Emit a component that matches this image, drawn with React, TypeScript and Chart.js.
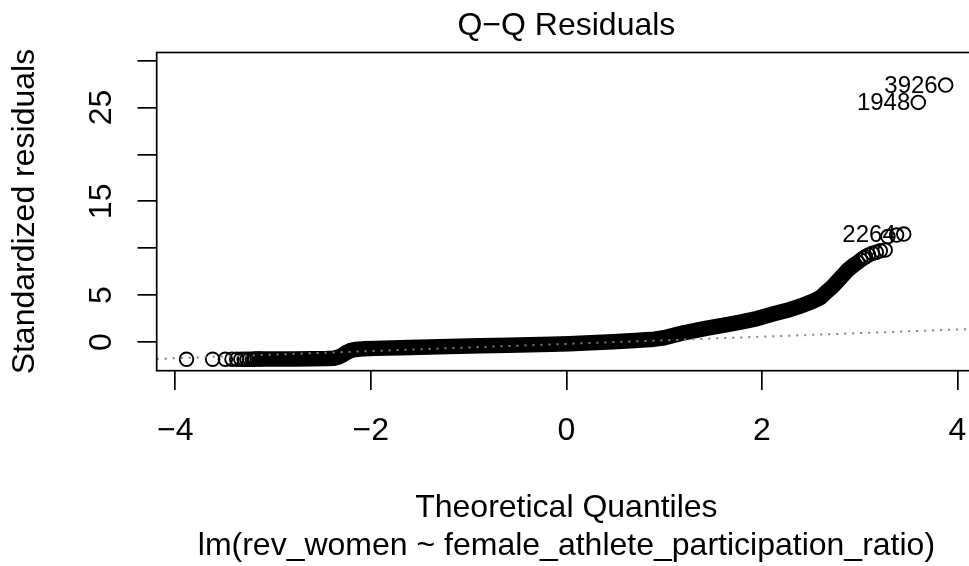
import React, { useEffect, useRef } from 'react';
import { Chart, registerables } from 'chart.js';

Chart.register(...registerables);

const FONT = '"Liberation Sans", Arial, Helvetica, sans-serif';

const TITLE = 'Q\u2212Q Residuals';
const X_TITLE = 'Theoretical Quantiles';
const Y_TITLE = 'Standardized residuals';
const SUB_TITLE = 'lm(rev_women ~ female_athlete_participation_ratio)';

// Dense middle of the sorted residuals (theoretical quantile, standardized residual)
const bandX = [
  -3.12, -3.0, -2.8, -2.6, -2.45, -2.38, -2.33, -2.29, -2.25, -2.21, -2.16, -2.08,
  -1.95, -1.7, -1.4, -1.1, -0.88, -0.6, -0.37, -0.15, 0.03, 0.25, 0.48, 0.7, 0.9,
  1.0, 1.1, 1.2, 1.3, 1.44, 1.6, 1.78, 1.95, 2.1, 2.25, 2.4, 2.52, 2.6, 2.65, 2.72,
  2.8, 2.88, 2.95,
];
const bandY = [
  -1.82, -1.81, -1.8, -1.79, -1.77, -1.74, -1.6, -1.4, -1.12, -0.92, -0.8, -0.73,
  -0.68, -0.61, -0.53, -0.46, -0.41, -0.35, -0.29, -0.24, -0.18, -0.09, 0.03, 0.15, 0.3,
  0.45, 0.72, 0.98, 1.18, 1.48, 1.78, 2.12, 2.5, 2.95, 3.35, 3.85, 4.35, 4.75, 5.25, 5.9,
  6.8, 7.7, 8.3,
];

// Sparse tails where single circles are visible
const tailX = [
  -3.885, -3.618, -3.488, -3.42, -3.372, -3.33, -3.296, -3.266, -3.238, -3.21, -3.187,
  -3.163, -3.14,
  2.98, 3.01, 3.04, 3.06, 3.09, 3.13, 3.17, 3.21, 3.26, 3.288, 3.377,
];
const tailY = [
  -1.84, -1.84, -1.84, -1.83, -1.83, -1.83, -1.83, -1.83, -1.83, -1.83, -1.82,
  -1.82, -1.82,
  8.5, 8.74, 8.95, 9.1, 9.28, 9.46, 9.56, 9.73, 9.81, 11.24, 11.4,
];

// Observations flagged with their row id
const idLabels = ['3926', '1948', '2264'];
const idX = [3.879, 3.599, 3.45];
const idY = [27.4, 25.55, 11.51];

// Dotted reference line end points
const refX = [-4.19, 4.19];
const refY = [-1.805, 1.405];

const X_MIN = -4.19;
const X_MAX = 4.19;
const Y_MIN = -3.06;
const Y_MAX = 30.87;

// Y ticks every 5; only these carry a label
const yLabelValues = [0, 5, 15, 25];

const LINE = 38.4; // one margin line in px

const toPoints = (xs: number[], ys: number[]) => xs.map((x, i) => ({ x, y: ys[i] }));
const fmt = (v: number) => (v < 0 ? '\u2212' + Math.abs(v) : String(v));

const rDecor = {
  id: 'rDecor',
  afterDatasetsDraw(chart: any) {
    const { ctx, scales } = chart;
    ctx.save();
    ctx.fillStyle = '#000';
    ctx.font = `24px ${FONT}`;
    ctx.textAlign = 'right';
    ctx.textBaseline = 'alphabetic';
    idLabels.forEach((lab, i) => {
      const px = scales.x.getPixelForValue(idX[i]);
      const py = scales.y.getPixelForValue(idY[i]);
      ctx.fillText(lab, px - 8, py + 7.5);
    });
    ctx.restore();
  },
  afterDraw(chart: any) {
    const { ctx, chartArea: a, scales } = chart;
    ctx.save();
    ctx.strokeStyle = '#000';
    ctx.lineWidth = 1.7;
    ctx.strokeRect(a.left, a.top, a.right - a.left, a.bottom - a.top);

    ctx.fillStyle = '#000';
    ctx.font = `32px ${FONT}`;
    ctx.textAlign = 'center';
    ctx.textBaseline = 'alphabetic';
    const cx = (a.left + a.right) / 2;
    ctx.fillText(TITLE, cx, a.top - 0.45 * LINE);
    ctx.fillText(X_TITLE, cx, a.bottom + 3.8 * LINE);
    ctx.fillText(SUB_TITLE, cx, a.bottom + 4.8 * LINE);

    // x tick labels, one margin line below the box
    for (const t of scales.x.ticks) {
      const px = scales.x.getPixelForValue(t.value);
      ctx.fillText(fmt(t.value), px, a.bottom + 1.8 * LINE);
    }

    // y tick labels, rotated parallel to the axis
    for (const v of yLabelValues) {
      const py = scales.y.getPixelForValue(v);
      ctx.save();
      ctx.translate(a.left - 1.2 * LINE, py);
      ctx.rotate(-Math.PI / 2);
      ctx.fillText(fmt(v), 0, 0);
      ctx.restore();
    }
    ctx.save();
    ctx.translate(a.left - 3.2 * LINE, (a.top + a.bottom) / 2);
    ctx.rotate(-Math.PI / 2);
    ctx.fillText(Y_TITLE, 0, 0);
    ctx.restore();
    ctx.restore();
  },
};

export default function App() {
  const ref = useRef<HTMLCanvasElement | null>(null);

  useEffect(() => {
    if (!ref.current) return;
    const chart = new Chart(ref.current, {
      type: 'scatter',
      data: {
        datasets: [
          {
            label: 'reference',
            data: toPoints(refX, refY),
            showLine: true,
            borderColor: '#7f7f7f',
            borderWidth: 2,
            borderDash: [2, 6],
            pointRadius: 0,
            clip: 0,
            order: 0,
          } as any,
          {
            label: 'extremes',
            data: toPoints(idX, idY),
            pointRadius: 6.8,
            borderWidth: 1.9,
            borderColor: '#000',
            backgroundColor: 'rgba(0,0,0,0)',
            order: 1,
          },
          {
            label: 'tails',
            data: toPoints(tailX, tailY),
            pointRadius: 6.8,
            borderWidth: 1.9,
            borderColor: '#000',
            backgroundColor: 'rgba(0,0,0,0)',
            order: 1,
          },
          {
            label: 'band',
            data: toPoints(bandX, bandY),
            showLine: true,
            borderColor: '#000',
            borderWidth: 15.5,
            borderCapStyle: 'round',
            borderJoinStyle: 'round',
            pointRadius: 0,
            tension: 0,
            order: 2,
          } as any,
        ],
      },
      options: {
        animation: false,
        responsive: false,
        devicePixelRatio: 1,
        events: [],
        layout: { padding: { left: 0, top: 52.5, right: 80.9, bottom: 0 } },
        plugins: {
          legend: { display: false },
          tooltip: { enabled: false },
          title: { display: false },
        },
        scales: {
          x: {
            type: 'linear',
            min: X_MIN,
            max: X_MAX,
            afterFit: (s: any) => {
              s.height = 566 - 370.7;
            },
            ticks: {
              stepSize: 2,
              includeBounds: false,
              autoSkip: false,
              display: false,
            },
            grid: {
              display: true,
              drawOnChartArea: false,
              drawTicks: true,
              tickLength: 19.2,
              color: '#000',
              lineWidth: 1.7,
            },
            border: { display: false },
          },
          y: {
            type: 'linear',
            min: Y_MIN,
            max: Y_MAX,
            afterFit: (s: any) => {
              s.width = 156.7;
            },
            ticks: {
              stepSize: 5,
              includeBounds: false,
              display: false,
            },
            grid: {
              display: true,
              drawOnChartArea: false,
              drawTicks: true,
              tickLength: 19.2,
              color: '#000',
              lineWidth: 1.7,
            },
            border: { display: false },
          },
        },
      },
      plugins: [rDecor],
    });
    return () => chart.destroy();
  }, []);

  return (
    <div
      style={{
        position: 'fixed',
        left: 0,
        top: 0,
        width: 969,
        height: 566,
        overflow: 'hidden',
        background: '#fff',
      }}
    >
      <canvas ref={ref} width={1057} height={566} style={{ display: 'block' }} />
    </div>
  );
}
